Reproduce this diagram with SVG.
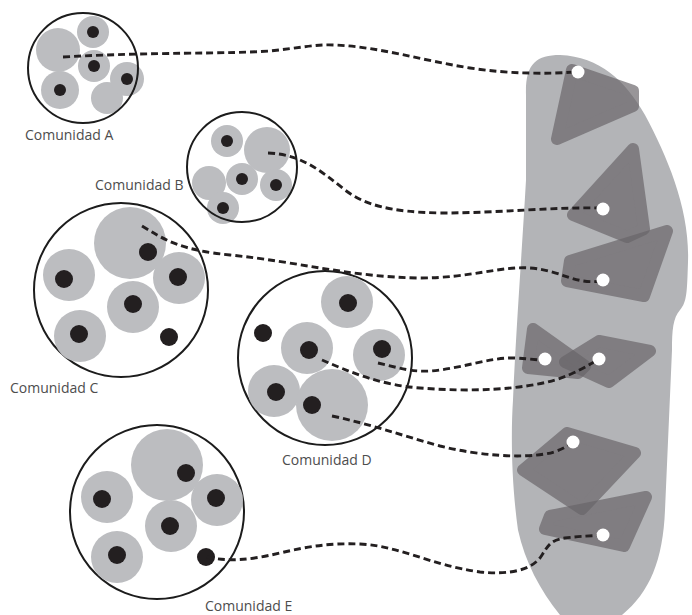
<svg xmlns="http://www.w3.org/2000/svg" width="692" height="615" viewBox="0 0 692 615">
<style>
.ring{fill:none;stroke:#1c1c1c;stroke-width:2}
.g{fill:#bcbdc0}
.d{fill:#231f20}
.lbl{font-family:"Open Sans","Noto Sans",sans-serif;font-size:14px;fill:#4d4d4d}
.patch{fill:#686468;opacity:0.68;stroke:#686468;stroke-width:12;stroke-linejoin:round}
.dash{fill:none;stroke:#231f20;stroke-width:2.9;stroke-dasharray:7 4}
.w{fill:#ffffff}
</style>
<g id="region">
<path fill="#b3b4b7" d="M526,95 C525,64 536,55 560,55 C600,57 625,80 645,115 C668,158 690,210 688,262 C687,292 687,302 680,310 C673,318 672,330 672,350 L665,510 C663,560 650,592 622,615 L560,615 C540,590 525,562 518,530 C511,480 511,430 513,400 C516,330 522,250 526,180 Z"/>
<polygon class="patch" points="572,70 633,91 633,106 557,139"/>
<polygon class="patch" points="633,149 644,229 627,237 573,215"/>
<polygon class="patch" points="667,231 644,296 567,281 570,261"/>
<polygon class="patch" points="533,329 585,366 578,373 528,368"/>
<polygon class="patch" points="565,362 599,341 650,351 609,382"/>
<polygon class="patch" points="567,433 635,453 582,509 523,470"/>
<polygon class="patch" points="646,497 624,546 545,529 550,516"/>
</g>
<g id="comunidad-a">
<circle class="g" cx="58" cy="50" r="22"/>
<circle class="g" cx="93" cy="32" r="16"/>
<circle class="g" cx="94" cy="66" r="16"/>
<circle class="g" cx="107" cy="98" r="16"/>
<circle class="g" cx="127" cy="79" r="17"/>
<circle class="g" cx="60" cy="90" r="19"/>
<circle class="ring" cx="83" cy="68" r="55"/>
<circle class="d" cx="93" cy="32" r="6"/>
<circle class="d" cx="94" cy="66" r="6"/>
<circle class="d" cx="127" cy="79" r="6"/>
<circle class="d" cx="60" cy="90" r="6"/>
<text class="lbl" x="25" y="140">Comunidad A</text>
</g>
<g id="comunidad-b">
<circle class="g" cx="227" cy="141" r="16"/>
<circle class="g" cx="267" cy="150" r="23"/>
<circle class="g" cx="209" cy="183" r="17"/>
<circle class="g" cx="242" cy="179" r="16"/>
<circle class="g" cx="276" cy="185" r="16"/>
<circle class="g" cx="223" cy="208" r="16"/>
<circle class="ring" cx="242" cy="167" r="55"/>
<circle class="d" cx="227" cy="141" r="6"/>
<circle class="d" cx="242" cy="179" r="6"/>
<circle class="d" cx="276" cy="185" r="6"/>
<circle class="d" cx="223" cy="208" r="6"/>
<text class="lbl" x="95" y="190">Comunidad B</text>
</g>
<g id="comunidad-c">
<circle class="ring" cx="121" cy="290" r="87"/>
<circle class="g" cx="130" cy="243" r="36"/>
<circle class="g" cx="69" cy="275" r="26"/>
<circle class="g" cx="179" cy="278" r="26"/>
<circle class="g" cx="133" cy="307" r="26"/>
<circle class="g" cx="80" cy="336" r="26"/>
<circle class="d" cx="148" cy="252" r="9"/>
<circle class="d" cx="64" cy="279" r="9"/>
<circle class="d" cx="178" cy="277" r="9"/>
<circle class="d" cx="133" cy="304" r="9"/>
<circle class="d" cx="79" cy="334" r="9"/>
<circle class="d" cx="169" cy="337" r="9"/>
<text class="lbl" x="10" y="393">Comunidad C</text>
</g>
<g id="comunidad-d">
<circle class="ring" cx="325" cy="358" r="87"/>
<circle class="g" cx="347" cy="302" r="26"/>
<circle class="g" cx="307" cy="348" r="26"/>
<circle class="g" cx="379" cy="355" r="26"/>
<circle class="g" cx="274" cy="391" r="26"/>
<circle class="g" cx="332" cy="405" r="36"/>
<circle class="d" cx="348" cy="303" r="9"/>
<circle class="d" cx="263" cy="333" r="9"/>
<circle class="d" cx="309" cy="350" r="9"/>
<circle class="d" cx="382" cy="349" r="9"/>
<circle class="d" cx="276" cy="392" r="9"/>
<circle class="d" cx="312" cy="405" r="9"/>
<text class="lbl" x="282" y="465">Comunidad D</text>
</g>
<g id="comunidad-e">
<circle class="ring" cx="157" cy="512" r="87"/>
<circle class="g" cx="167" cy="465" r="36"/>
<circle class="g" cx="107" cy="497" r="26"/>
<circle class="g" cx="217" cy="500" r="26"/>
<circle class="g" cx="171" cy="526" r="26"/>
<circle class="g" cx="117" cy="557" r="26"/>
<circle class="d" cx="186" cy="473" r="9"/>
<circle class="d" cx="102" cy="499" r="9"/>
<circle class="d" cx="216" cy="498" r="9"/>
<circle class="d" cx="170" cy="526" r="9"/>
<circle class="d" cx="117" cy="555" r="9"/>
<circle class="d" cx="206" cy="557" r="9"/>
<text class="lbl" x="205" y="611">Comunidad E</text>
</g>
<g id="connectors">
<path class="dash" d="M63,57 C150,52 230,54 270,51 C300,48 315,44 335,45 C380,47 420,60 470,68 C510,74 545,74 576,72"/>
<path class="dash" d="M268,153 C300,154 320,170 345,190 C365,205 390,212 440,213 C500,213 550,207 601,208"/>
<path class="dash" d="M142,226 C165,240 180,250 230,255 C300,262 350,277 420,278 C470,278 500,266 530,268 C560,270 575,285 601,281"/>
<path class="dash" d="M378,363 C400,368 410,372 430,371 C460,369 490,357 515,358 C530,359 538,360 544,360"/>
<path class="dash" d="M322,360 C350,372 380,385 420,388 C470,392 520,390 555,380 C575,374 590,364 598,360"/>
<path class="dash" d="M332,416 C370,424 400,435 440,446 C480,456 520,458 545,454 C558,452 566,447 572,443"/>
<path class="dash" d="M207,557 C230,562 250,560 280,553 C310,546 330,543 360,544 C400,546 430,565 480,572 C510,575 530,570 540,558 C548,546 550,540 565,538 C580,536 592,536 602,535"/>
</g>
<g id="sites">
<circle class="w" cx="578" cy="72" r="6.5"/>
<circle class="w" cx="603" cy="209" r="6.5"/>
<circle class="w" cx="603" cy="280" r="6.5"/>
<circle class="w" cx="545" cy="359" r="6.5"/>
<circle class="w" cx="599" cy="359" r="6.5"/>
<circle class="w" cx="573" cy="442" r="6.5"/>
<circle class="w" cx="603" cy="535" r="6.5"/>
</g>
</svg>
